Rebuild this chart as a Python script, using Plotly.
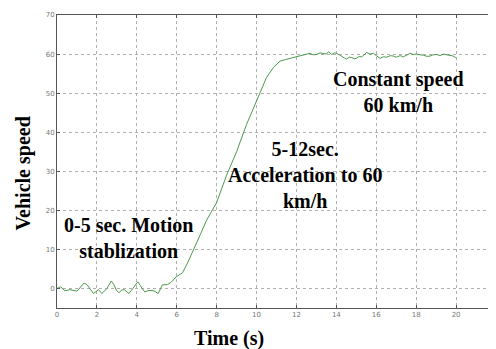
import plotly.graph_objects as go

time_s = [0, 0.18, 0.4, 0.65, 1.0, 1.18, 1.36, 1.5, 1.66, 1.83, 2.08, 2.25, 2.5, 2.72, 2.85,
          2.97, 3.1, 3.25, 3.38, 3.6, 3.8, 4.05, 4.27, 4.4, 4.6, 4.86, 5.07, 5.28, 5.53, 5.7,
          5.98, 6.29, 6.54, 6.87, 7.2, 7.5, 8.0, 8.5, 9.0, 9.5, 10.0, 10.5, 10.85, 11.18,
          11.45, 11.68, 11.85, 12.0, 12.18, 12.35, 12.5, 12.68, 12.85, 13.0, 13.18, 13.35,
          13.5, 13.6, 13.77, 13.9, 14.0, 14.15, 14.27, 14.4, 14.5, 14.65, 14.77, 14.9, 15.0,
          15.15, 15.27, 15.43, 15.52, 15.7, 15.86, 16.0, 16.19, 16.35, 16.53, 16.7, 16.86,
          17.0, 17.2, 17.36, 17.55, 17.7, 17.85, 18.03, 18.2, 18.37, 18.55, 18.7, 18.85,
          19.03, 19.2, 19.37, 19.55, 19.7, 19.85, 19.95, 20.0]
speed = [0, 0.4, -0.6, -0.3, -0.7, 0.3, 1.4, 1.0, 0, -1.3, -0.3, -1.3, 0, 1.9, 1.0,
         -0.4, -1.1, -0.4, -0.3, -1.3, 0, 1.7, 0, -0.9, -0.5, -0.6, -1.3, 0.9, 1.0, 1.5,
         3.0, 4.0, 6.5, 10.5, 14.0, 17.5, 22.0, 29.0, 35.0, 42.0, 48.0, 54.0, 56.6, 58.2,
         58.6, 58.9, 59.2, 59.3, 59.6, 59.7, 59.9, 60.2, 59.8, 59.9, 60.3, 60.2,
         60.0, 60.6, 59.9, 60.3, 60.2, 59.8, 59.3, 59.0, 58.7, 59.2, 59.1, 58.8, 58.9,
         59.4, 59.3, 59.9, 60.4, 60.0, 60.2, 59.6, 58.9, 59.3, 59.2, 59.6, 59.5,
         59.2, 59.6, 59.3, 59.8, 60.2, 59.9, 60.0, 59.8, 59.7, 59.4, 59.5, 59.8,
         59.9, 59.6, 60.0, 59.8, 59.7, 59.5, 59.2, 58.9]

x_ticks = [0, 2, 4, 6, 8, 10, 12, 14, 16, 18, 20, 22]
x_tick_labels = ["0", "2", "4", "6", "8", "10", "12", "14", "16", "18", "20", "2"]
y_ticks = [0, 10, 20, 30, 40, 50, 60, 70]

serif = "Liberation Serif"

fig = go.Figure()
fig.add_trace(go.Scatter(x=time_s, y=speed, mode="lines",
                         line=dict(color="#4c994c", width=1), showlegend=False,
                         hoverinfo="skip"))

axis_common = dict(showgrid=True, gridcolor="#b0b0b0", griddash="dot", gridwidth=1,
                   zeroline=False, showline=True, linecolor="#555555", linewidth=1,
                   mirror="ticks", ticks="inside", ticklen=3, tickcolor="#555555",
                   tickfont=dict(family="DejaVu Sans", size=7, color="#777777"))

fig.update_xaxes(range=[0, 22], tickvals=x_ticks, ticktext=x_tick_labels, **axis_common)
fig.update_yaxes(range=[-5, 70], tickvals=y_ticks, **axis_common)

# page body has an 8px margin; figure coordinates = window coordinates - 8
plot_w = 439
plot_h = 293
bold = dict(family=serif, size=20, color="black")
annotations = [
    dict(x=3.56, y=12.9, xref="x", yref="y", text="<b>0-5 sec. Motion<br>stablization</b>"),
    dict(x=12.43, y=29.0, xref="x", yref="y", text="<b>5-12sec.<br>Acceleration to 60<br>km/h</b>"),
    dict(x=17.1, y=50.4, xref="x", yref="y", text="<b>Constant speed<br>60 km/h</b>"),
    dict(x=(229 - 57) / plot_w, y=(308 - 338.5) / plot_h, xref="paper", yref="paper",
         text="<b>Time (s)</b>"),
    dict(x=(23 - 57) / plot_w, y=(308 - 173.5) / plot_h, xref="paper", yref="paper",
         text="<b>Vehicle speed</b>", textangle=-90),
]
for a in annotations:
    a.update(showarrow=False, font=bold, xanchor="center", yanchor="middle", align="center")

fig.update_layout(width=488, height=341, margin=dict(l=49, r=0, t=7, b=41),
                  paper_bgcolor="white", plot_bgcolor="white",
                  annotations=annotations)

fig.write_html("out.html")
